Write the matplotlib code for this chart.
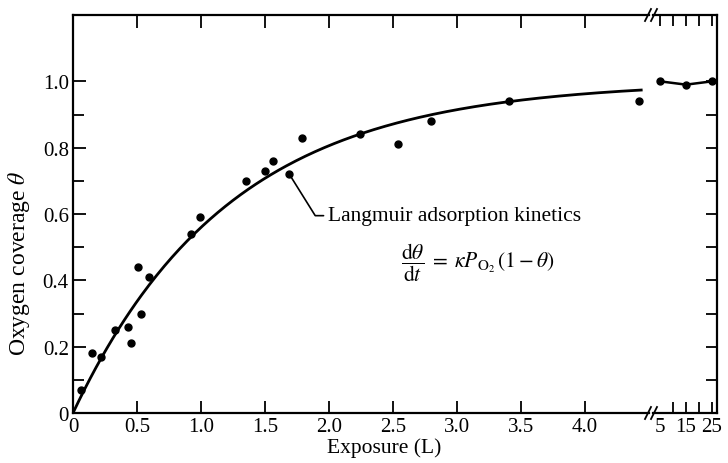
import numpy as np
import matplotlib
matplotlib.use("Agg")
import matplotlib.pyplot as plt
from matplotlib.lines import Line2D

plt.rcParams["font.family"] = ["Liberation Serif", "DejaVu Serif"]
plt.rcParams["mathtext.fontset"] = "stix"

# Measured oxygen coverage vs. exposure (Langmuir)
exposure = [0.06, 0.15, 0.22, 0.33, 0.43, 0.45, 0.53, 0.51, 0.59, 0.92, 0.99,
            1.35, 1.50, 1.56, 1.69, 1.79, 2.24, 2.54, 2.80, 3.41, 4.42]
coverage = [0.07, 0.18, 0.17, 0.25, 0.26, 0.21, 0.30, 0.44, 0.41, 0.54, 0.59,
            0.70, 0.73, 0.76, 0.72, 0.83, 0.84, 0.81, 0.88, 0.94, 0.94]

# Saturation values at long exposures
long_exposure = [5, 15, 25]
long_coverage = [1.00, 0.99, 1.00]

# Langmuir kinetics: theta = 1 - exp(-k * exposure)
rate_k = 0.82
curve_end = 4.45

x_ticks = [0, 0.5, 1.0, 1.5, 2.0, 2.5, 3.0, 3.5, 4.0]
x_tick_labels = ["0", "0.5", "1.0", "1.5", "2.0", "2.5", "3.0", "3.5", "4.0"]
y_ticks = [0, 0.2, 0.4, 0.6, 0.8, 1.0]
y_tick_labels = ["0", "0.2", "0.4", "0.6", "0.8", "1.0"]
y_minor_ticks = [0.1, 0.3, 0.5, 0.7, 0.9]
long_ticks = [5, 10, 15, 20, 25]
long_tick_labels = ["5", "", "15", "", "25"]

W, H = 728, 464
fig = plt.figure(figsize=(W / 100, H / 100), dpi=100)
ax = fig.add_axes([73 / W, 50 / H, 576 / W, 398 / H])
ax2 = fig.add_axes([653 / W, 50 / H, 64 / W, 398 / H])

lw_spine = 1.6
for a in (ax, ax2):
    for s in a.spines.values():
        s.set_linewidth(lw_spine)

# main panel
ax.set_xlim(0, 4.5)
ax.set_ylim(0, 1.2)
ax.spines["right"].set_visible(False)
ax.set_xticks(x_ticks, x_tick_labels)
ax.set_yticks(y_ticks, y_tick_labels)
ax.set_yticks(y_minor_ticks, minor=True)
ax.tick_params(which="both", direction="in", top=True, right=False,
               labelsize=15, width=1.3, pad=3)
ax.tick_params(which="major", length=9)
ax.tick_params(which="minor", length=8)

xs = np.linspace(0, curve_end, 300)
ax.plot(xs, 1 - np.exp(-rate_k * xs), color="black", lw=2.0, solid_capstyle="butt")
ax.plot(exposure, coverage, "o", color="black", ms=5)

ax.set_xlabel("Exposure (L)", fontsize=15.5)
ax.xaxis.set_label_coords(0.54, -0.062)
ax.set_ylabel(r"Oxygen coverage $\theta$", fontsize=17)
ax.yaxis.set_label_coords(-0.072, 0.38)

k = 14
ax.annotate("Langmuir adsorption kinetics", xy=(exposure[k], coverage[k]),
            xytext=(1.99, 0.595), ha="left", va="center", fontsize=15.5,
            arrowprops=dict(arrowstyle="-", lw=1.2, color="black",
                            shrinkA=1, shrinkB=1, relpos=(0, 0.5),
                            connectionstyle="angle,angleA=0,angleB=-58,rad=0"))
ax.text(2.56, 0.455,
        r"$\dfrac{\mathrm{d}\theta}{\mathrm{d}t}\;=\;\kappa P_{\mathrm{O}_2}\,(1-\theta)$",
        ha="left", va="center", fontsize=15.5)

# long-exposure panel
ax2.set_xlim(2.3, 26.9)
ax2.set_ylim(0, 1.2)
ax2.spines["left"].set_visible(False)
ax2.set_xticks(long_ticks, long_tick_labels)
ax2.tick_params(axis="x", direction="in", top=True, bottom=True,
                labelsize=15, length=8, width=1.3, pad=3)
ax2.xaxis.get_major_ticks()[0].tick1line.set_visible(False)
ax2.set_yticks(np.arange(0.1, 1.05, 0.1))
ax2.tick_params(axis="y", direction="in", left=False, right=True,
                labelleft=False, labelright=False, length=8, width=1.3)
ax2.plot(long_exposure, long_coverage, "-", color="black", lw=1.8)
ax2.plot(long_exposure, long_coverage, "o", color="black", ms=5)

# axis break marks
def break_mark(xc, yc):
    for dx in (-3, 3):
        x0, x1 = (xc + dx - 3) / W, (xc + dx + 3) / W
        y0, y1 = (yc - 6) / H, (yc + 6) / H
        fig.add_artist(Line2D([x0, x1], [y0, y1], color="black", lw=1.3))

break_mark(651, H - 16)
break_mark(651, 50)

fig.savefig("out.png", dpi=100)
